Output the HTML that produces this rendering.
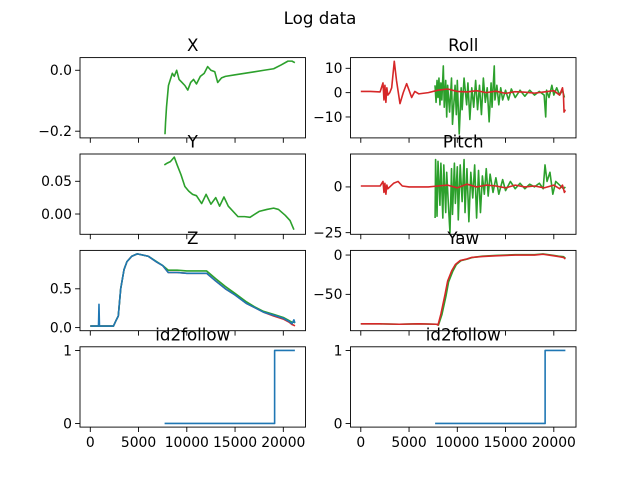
<!DOCTYPE html>
<html><head><meta charset="utf-8"><style>
html,body{margin:0;padding:0;background:#fff;}
svg{display:block;font-family:"DejaVu Sans","Liberation Sans",sans-serif;}
</style></head><body>
<svg id="fig" width="640" height="480" viewBox="0 0 640 480" xmlns="http://www.w3.org/2000/svg">
<rect width="640" height="480" fill="#fff"/>
<text x="320" y="24" text-anchor="middle" font-size="16.7">Log data</text>
</svg>
<script>
const xTicks=[0,5000,10000,15000,20000];
const xTickLabels=["0","5000","10000","15000","20000"];

const xPosT=[7740,7800,7900,8100,8300,8500,8700,8950,9200,9500,9800,10100,10400,10700,11000,11400,11800,12160,12500,12900,13200,13600,14000,15000,16000,17000,18000,19000,19800,20480,20900,21200];
const xPosV=[-0.21,-0.17,-0.12,-0.05,-0.03,-0.01,-0.02,0.0,-0.03,-0.04,-0.05,-0.065,-0.04,-0.03,-0.045,-0.02,-0.01,0.012,0.0,-0.005,-0.04,-0.025,-0.02,-0.015,-0.01,-0.005,0.0,0.005,0.018,0.03,0.03,0.025];

const yPosT=[7670,8000,8300,8700,9000,9400,9800,10200,10600,11000,11540,12000,12500,13000,13400,13850,14300,15300,16000,16550,17500,18300,19000,19500,20200,20700,21100];
const yPosV=[0.075,0.078,0.08,0.087,0.075,0.06,0.042,0.035,0.03,0.028,0.016,0.03,0.015,0.025,0.012,0.026,0.012,-0.004,-0.004,-0.005,0.004,0.007,0.009,0.007,-0.002,-0.01,-0.024];

const zT=[0,850,900,950,2400,2700,2900,3150,3500,3800,4300,4870,6000,6880,7500,8080,9000,10000,11000,12060,13000,14000,15000,16200,17000,17930,19000,20000,20600,20900,21100,21200];
const zBlue=[0.02,0.02,0.3,0.02,0.02,0.1,0.15,0.5,0.75,0.85,0.92,0.95,0.92,0.845,0.8,0.71,0.71,0.7,0.7,0.7,0.6,0.5,0.42,0.31,0.26,0.2,0.16,0.12,0.08,0.05,0.1,0.06];
const zGreen=[0.02,0.02,0.02,0.02,0.02,0.1,0.15,0.5,0.75,0.85,0.92,0.95,0.92,0.85,0.8,0.74,0.74,0.73,0.73,0.73,0.63,0.53,0.44,0.33,0.27,0.21,0.17,0.13,0.09,0.07,0.07,0.06];
const zRed=[0.02,0.02,0.02,0.02,0.02,0.1,0.15,0.5,0.75,0.85,0.92,0.95,0.92,0.845,0.8,0.71,0.71,0.7,0.7,0.7,0.6,0.5,0.42,0.31,0.26,0.2,0.15,0.11,0.07,0.04,0.03,0.02];

const idT=[7700,19100,19100,21200];
const idV=[0,0,1,1];

const rollRedT=[0,1000,2000,2300,2400,2500,2600,2700,2800,3000,3200,3470,3700,4060,4400,4750,5000,5270,5600,6000,7000,8000,9000,10000,11000,12000,13000,14000,15000,16000,17000,18000,19000,20000,20600,20900,21000,21060,21200];
const rollRedV=[0.5,0.5,0.3,4,-3,3,-4,2,-1,0,2,12.9,5,-4.5,0,3.7,1,-2,0.5,-0.5,0,1,1.5,0.5,0.3,0.8,0,0.6,-0.3,0.4,0.2,-0.2,0.3,0.8,-1,2,-1,-8,-7];

const rollGreenT=[7690,7800,7900,8000,8100,8200,8300,8400,8550,8650,8800,8900,9000,9200,9400,9500,9770,9900,10000,10200,10400,10500,10700,10970,11100,11300,11500,11700,11900,12100,12300,12500,12700,12900,13100,13300,13500,13600,13830,13900,14100,14300,14500,14700,15000,15300,15600,16000,16500,17000,17500,18000,18500,19000,19160,19250,19500,19800,20000,20300,20600,20900,21100];
const rollGreenV=[3,-4,5,-2,6,-5,4,-3,11,-6,5,-10,3,-8,6,-13,3,-9,5,-17,2,-7,6,-5,4,-11,2,-6,5,-7,3,-9,6,-4,2,-12,4,-6,11,-3,3,-5,2,-3,1,-3,1.5,-2,1,-1.5,1,-1,0.5,-1,-10,1,-2,3,-1,2,-1,1,-2];

const pitchRedT=[0,1000,2000,2300,2400,2500,2600,2700,2800,3000,3400,3860,4300,5000,6000,7000,8000,9000,10000,11000,12000,13000,14000,15000,16000,17000,18000,19000,20000,20600,20900,21100,21200];
const pitchRedV=[0.5,0.5,0.5,3,-3,2,-4,1,-1,0,2,3,0.5,0,0,0,0.5,1,-0.5,1.5,0,1,0.5,-0.5,1,0,0.5,-0.5,1,-1,1,-3,-2];

const pitchGreenT=[7700,7750,7900,8000,8200,8300,8500,8600,8800,8900,9100,9240,9400,9500,9700,9800,10000,10100,10300,10500,10700,10800,11000,11200,11400,11600,11800,12000,12200,12400,12600,12800,13000,13200,13400,13700,14000,14300,14700,15000,15500,16000,16500,17000,17500,18000,18500,18900,19090,19300,19600,19900,20200,20600,21000,21200];
const pitchGreenV=[-17,15,-16,14,-10,13,-17,12,-14,8,-12,-25,10,-15,13,-9,11,-18,12,-8,15,-14,10,-19,8,-6,12,-17,9,-14,6,-4,10,-5,7,-3,5,-4,4,-2,3,-1,2,-1,1.5,0,2,-1,12,3,8,-4,3,1,-1,0];

const yawRedT=[0,2000,4000,6000,7860,8000,8300,8730,9000,9420,9800,10300,10970,11500,12500,14000,16000,18000,18880,20000,20500,21000,21200];
const yawRedV=[-87.5,-87.5,-88,-87.5,-88,-89,-75,-50,-33,-20,-12,-7,-5,-3,-2,-1,0,0,1,-1,-2,-3,-5];
const yawGreenT=[0,2000,4000,6000,7860,8050,8400,8830,9100,9520,9900,10400,11070,11600,12600,14000,16000,18000,18880,20000,20500,21000,21200];
const yawGreenV=[-87.5,-87.5,-88,-87.5,-88,-89,-76,-52,-34,-21,-12,-7,-5,-3,-1.5,-0.5,0.5,0.5,1.5,-0.5,-1.5,-2,-4];

const C0="#1f77b4",C2="#2ca02c",C3="#d62728";
const NS="http://www.w3.org/2000/svg";
const fig=document.getElementById('fig');
const XMIN=-1067,XMAX=22300;
const colL=80,colR=350.5,W=225.5;
const rowTops=[57.6,154,250.4,346.8],H=80.3;

function mk(tag,attrs,parent){const e=document.createElementNS(NS,tag);for(const k in attrs)e.setAttribute(k,attrs[k]);(parent||fig).appendChild(e);return e;}

function axes(name,left,top,ylim,yticks,ylabels,title,series,showXLabels){
  const g=mk('g',{});
  
  
  const sx=t=>left+(t-XMIN)/(XMAX-XMIN)*W;
  const sy=v=>top+H-(v-ylim[0])/(ylim[1]-ylim[0])*H;
  const cp='clip-'+name;
  const cpe=mk('clipPath',{id:cp},g);mk('rect',{x:left,y:top,width:W,height:H},cpe);
  series.forEach(s=>{
    const pts=s.t.map((t,i)=>sx(t).toFixed(2)+','+sy(s.v[i]).toFixed(2)).join(' ');
    const pl=mk('polyline',{points:pts,fill:'none',stroke:s.c,'stroke-width':1.6,'stroke-linejoin':'round','clip-path':'url(#'+cp+')'},g);
    
    
  });
  const fr=mk('rect',{x:left,y:top,width:W,height:H,fill:'none',stroke:'#000','stroke-width':0.9},g);
  
  
  yticks.forEach((v,i)=>{
    const y=sy(v);
    mk('line',{x1:left-4.9,x2:left,y1:y,y2:y,stroke:'#000','stroke-width':0.9},g);
    const tx=mk('text',{x:left-8,y:y+4.8,'text-anchor':'end','font-size':13.9},g);
    tx.textContent=ylabels[i];
    
    
  });
  xTicks.forEach((t,i)=>{
    const x=sx(t);
    mk('line',{x1:x,x2:x,y1:top+H,y2:top+H+4.9,stroke:'#000','stroke-width':0.9},g);
    if(showXLabels){
      const tx=mk('text',{x:x,y:top+H+20,'text-anchor':'middle','font-size':13.9},g);
      tx.textContent=xTickLabels[i];
      
      
    }
  });
  const tt=mk('text',{x:left+W/2,y:top-6.5,'text-anchor':'middle','font-size':16.7},g);
  tt.textContent=title;
  
  
}

axes('x',colL,rowTops[0],[-0.222,0.0416],[0,-0.2],["0.0","\u22120.2"],"X",[{t:xPosT,v:xPosV,c:C2,n:'x'}],false);
axes('y',colL,rowTops[1],[-0.031,0.0917],[0.05,0],["0.05","0.00"],"Y",[{t:yPosT,v:yPosV,c:C2,n:'y'}],false);
axes('z',colL,rowTops[2],[-0.04,0.995],[0.5,0],["0.5","0.0"],"Z",[{t:zT,v:zRed,c:C3,n:'z-red'},{t:zT,v:zGreen,c:C2,n:'z-green'},{t:zT,v:zBlue,c:C0,n:'z-blue'}],false);
axes('id2follow-left',colL,rowTops[3],[-0.05,1.05],[1,0],["1","0"],"id2follow",[{t:idT,v:idV,c:C0,n:'id'}],true);
axes('roll',colR,rowTops[0],[-18.6,14.4],[10,0,-10],["10","0","\u221210"],"Roll",[{t:rollGreenT,v:rollGreenV,c:C2,n:'green'},{t:rollRedT,v:rollRedV,c:C3,n:'red'}],false);
axes('pitch',colR,rowTops[1],[-25.9,18],[0,-25],["0","\u221225"],"Pitch",[{t:pitchGreenT,v:pitchGreenV,c:C2,n:'green'},{t:pitchRedT,v:pitchRedV,c:C3,n:'red'}],false);
axes('yaw',colR,rowTops[2],[-96.2,5.9],[0,-50],["0","\u221250"],"Yaw",[{t:yawGreenT,v:yawGreenV,c:C2,n:'green'},{t:yawRedT,v:yawRedV,c:C3,n:'red'}],false);
axes('id2follow-right',colR,rowTops[3],[-0.05,1.05],[1,0],["1","0"],"id2follow",[{t:idT,v:idV,c:C0,n:'id'}],true);
</script>
</body></html>
